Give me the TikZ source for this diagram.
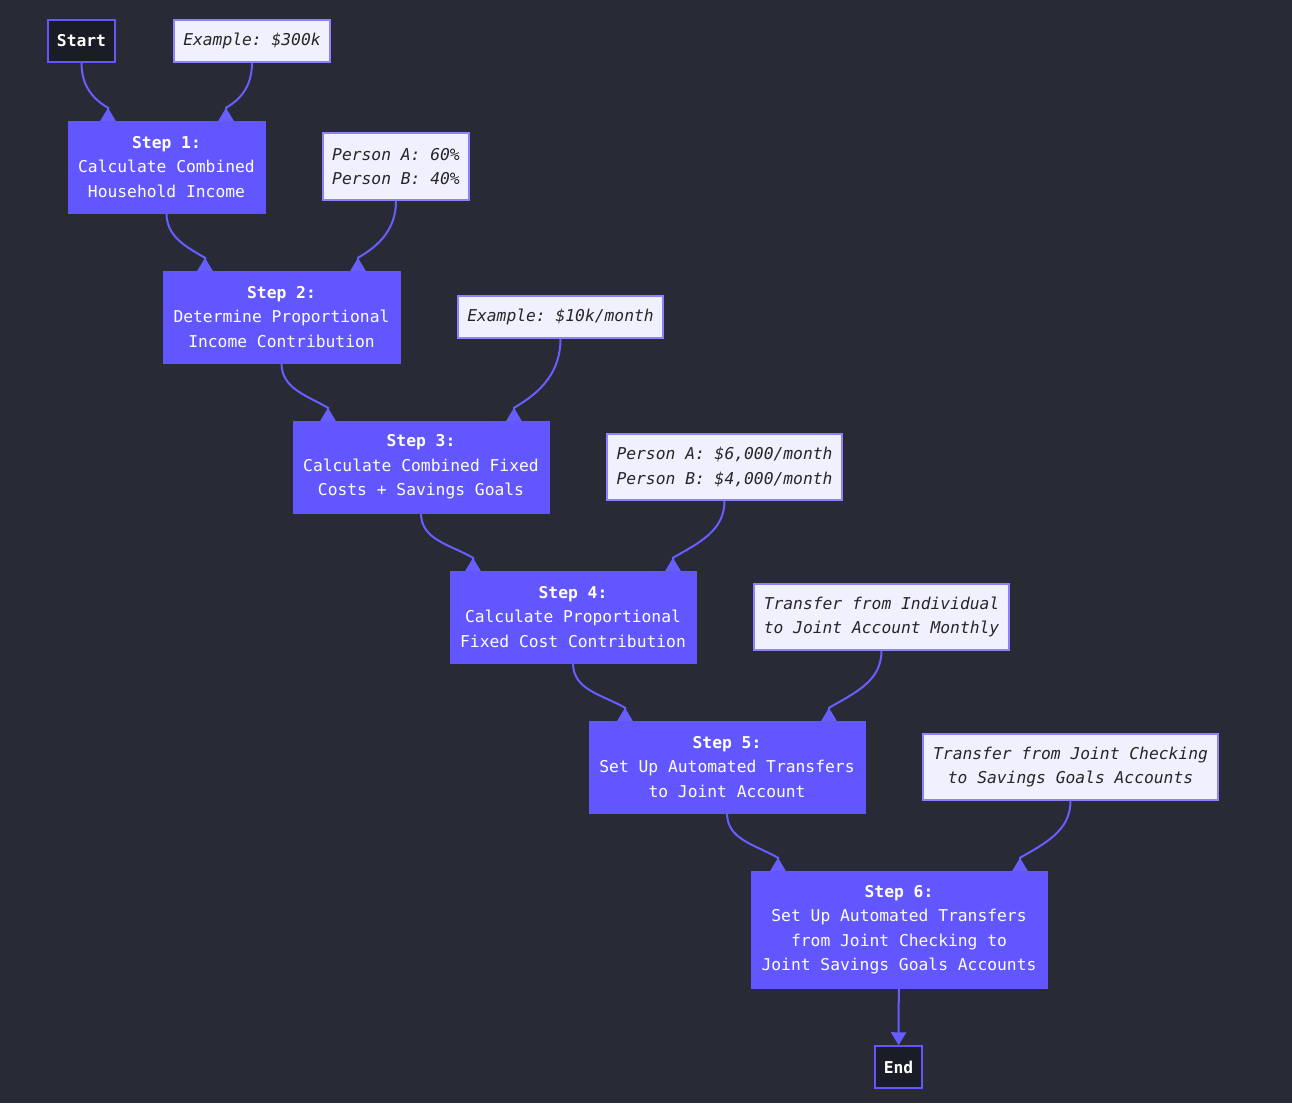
\documentclass[tikz,border=0pt]{standalone}
\usepackage{fontspec}
\setmonofont{DejaVu Sans Mono}
\usetikzlibrary{arrows.meta}
\definecolor{flowbg}{RGB}{40,42,54}
\definecolor{flowstep}{RGB}{98,87,255}
\definecolor{flowedge}{RGB}{104,94,255}
\definecolor{flownote}{RGB}{240,240,255}
\definecolor{flownoteline}{RGB}{140,130,255}
\definecolor{flowterm}{RGB}{27,29,38}
\newcommand{\feedleft}[3]{%
  \draw[flowline,-{Triangle[reversed,width=15pt,length=13pt]}] (#1.south)
    to[out=-90,in=150] ([xshift=-#3,yshift=13pt]#2.north) -- ([xshift=-#3]#2.north);
}
\newcommand{\feedright}[3]{%
  \draw[flowline,-{Triangle[reversed,width=15pt,length=13pt]}] (#1.south)
    to[out=-90,in=30] ([xshift=#3,yshift=13pt]#2.north) -- ([xshift=#3]#2.north);
}

\begin{document}
\begin{tikzpicture}[x=1pt,y=-1pt,
    font=\ttfamily\fontsize{16.3}{24.5}\selectfont,
    stepbox/.style={fill=flowstep,draw=flowstep,text=white,align=center,inner sep=0pt},
    notebox/.style={fill=flownote,draw=flownoteline,line width=1.5pt,text=black!85,
      align=center,inner sep=0pt,font=\ttfamily\itshape\fontsize{16.3}{24.5}\selectfont},
    termbox/.style={fill=flowterm,draw=flowstep,line width=1.5pt,text=white,
      inner sep=0pt,font=\ttfamily\bfseries\fontsize{16.3}{24.5}\selectfont},
    flowline/.style={draw=flowedge,line width=2pt,-{Triangle[width=15pt,length=13pt]}}]
    \fill[flowbg] (0,0) rectangle (1292,1103);
    % start and inputs
    \node[termbox,minimum width=67,minimum height=42] (start) at (81.5,41) {Start};
    \node[notebox,minimum width=156,minimum height=42] (ex300) at (252,41) {Example: \$300k};
    \node[stepbox,minimum width=197,minimum height=92] (s1) at (166.5,167)
      {\textbf{Step 1:}\\Calculate Combined\\Household Income};
    \node[notebox,minimum width=146,minimum height=67] (share) at (396,166.5)
      {Person A: 60\%\\Person B: 40\%};
    \node[stepbox,minimum width=237,minimum height=92] (s2) at (281.5,317)
      {\textbf{Step 2:}\\Determine Proportional\\Income Contribution};
    \node[notebox,minimum width=205,minimum height=42] (ex10k) at (560.5,317)
      {Example: \$10k/month};
    \node[stepbox,minimum width=256,minimum height=92] (s3) at (421,467)
      {\textbf{Step 3:}\\Calculate Combined Fixed\\Costs + Savings Goals};
    \node[notebox,minimum width=235,minimum height=66] (split) at (724.5,467)
      {Person A: \$6,000/month\\Person B: \$4,000/month};
    \node[stepbox,minimum width=246,minimum height=92] (s4) at (573,617)
      {\textbf{Step 4:}\\Calculate Proportional\\Fixed Cost Contribution};
    \node[notebox,minimum width=255,minimum height=66] (indiv) at (881.5,617)
      {Transfer from Individual\\to Joint Account Monthly};
    \node[stepbox,minimum width=276,minimum height=92] (s5) at (727,767)
      {\textbf{Step 5:}\\Set Up Automated Transfers\\to Joint Account};
    \node[notebox,minimum width=295,minimum height=66] (joint) at (1070.5,767)
      {Transfer from Joint Checking\\to Savings Goals Accounts};
    \node[stepbox,minimum width=296,minimum height=117] (s6) at (899,929.5)
      {\textbf{Step 6:}\\Set Up Automated Transfers\\from Joint Checking to\\Joint Savings Goals Accounts};
    \node[termbox,minimum width=47,minimum height=42] (end) at (898.5,1067) {End};
    % connectors
    \feedleft{start}{s1}{58.5}
    \feedright{ex300}{s1}{59.5}
    \feedleft{s1}{s2}{76.5}
    \feedright{share}{s2}{76.5}
    \feedleft{s2}{s3}{93}
    \feedright{ex10k}{s3}{93}
    \feedleft{s3}{s4}{100}
    \feedright{split}{s4}{100}
    \feedleft{s4}{s5}{102}
    \feedright{indiv}{s5}{102}
    \feedleft{s5}{s6}{121}
    \feedright{joint}{s6}{121}
    \draw[flowline] (s6) -- (end);
\end{tikzpicture}
\end{document}
